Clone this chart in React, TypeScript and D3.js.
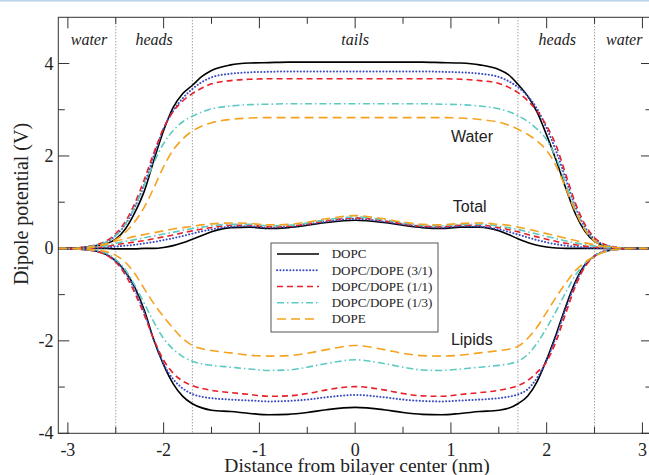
import React from "react";
import * as d3 from "d3";

const xs = [-3.1,-3.0,-2.9,-2.8,-2.7,-2.6,-2.5,-2.4,-2.3,-2.2,-2.1,-2.0,-1.9,-1.8,-1.7,-1.6,-1.5,-1.3,-1.1,-0.9,-0.7,-0.5,-0.3,0,0.3,0.5,0.7,0.9,1.1,1.3,1.5,1.6,1.7,1.8,1.9,2.0,2.1,2.2,2.3,2.4,2.5,2.6,2.7,2.8,2.9,3.0,3.1];

const seriesNames = ["DOPC", "DOPC/DOPE (3/1)", "DOPC/DOPE (1/1)", "DOPC/DOPE (1/3)", "DOPE"];

// Water contribution
const waterDOPC = [0,0,0.01,0.03,0.06,0.1,0.2,0.42,0.78,1.25,1.92,2.55,3.05,3.35,3.53,3.72,3.85,3.97,4.01,4.02,4.03,4.03,4.03,4.03,
  4.03,4.03,4.03,4.02,4.01,3.97,3.87,3.76,3.55,3.3,2.95,2.45,1.9,1.3,0.75,0.37,0.15,0.06,0.02,0.01,0,0,0];
const water31 = [0,0,0.01,0.03,0.07,0.14,0.28,0.52,0.9,1.4,2.02,2.6,2.98,3.25,3.45,3.6,3.7,3.78,3.81,3.82,3.83,3.83,3.83,3.83,
  3.83,3.83,3.83,3.82,3.81,3.78,3.71,3.62,3.49,3.3,3.02,2.6,2.1,1.5,0.9,0.46,0.2,0.08,0.03,0.01,0,0,0];
const water11 = [0,0,0.01,0.04,0.08,0.16,0.32,0.58,0.98,1.5,2.08,2.6,2.96,3.19,3.35,3.47,3.56,3.63,3.66,3.67,3.67,3.67,3.67,3.67,
  3.67,3.67,3.67,3.67,3.66,3.63,3.57,3.49,3.37,3.2,2.97,2.65,2.22,1.6,0.98,0.52,0.23,0.09,0.03,0.01,0,0,0];
const water13 = [0,0,0.01,0.03,0.07,0.14,0.28,0.52,0.9,1.38,1.86,2.27,2.55,2.74,2.86,2.95,3.02,3.08,3.11,3.12,3.13,3.13,3.13,3.13,
  3.13,3.13,3.13,3.12,3.11,3.08,3.02,2.96,2.87,2.75,2.58,2.35,1.95,1.4,0.85,0.42,0.17,0.07,0.02,0.01,0,0,0];
const waterDOPE = [0,0,0.01,0.02,0.05,0.1,0.19,0.35,0.58,0.9,1.32,1.77,2.13,2.37,2.54,2.65,2.72,2.79,2.82,2.83,2.83,2.83,2.83,2.83,
  2.83,2.83,2.83,2.83,2.82,2.79,2.73,2.67,2.58,2.47,2.32,2.12,1.78,1.3,0.8,0.4,0.16,0.06,0.02,0.01,0,0,0];

// Lipid contribution
const lipidDOPC = [0,0,-0.01,-0.03,-0.06,-0.13,-0.27,-0.5,-0.85,-1.35,-2.0,-2.52,-2.93,-3.2,-3.36,-3.45,-3.5,-3.53,-3.57,-3.6,-3.59,-3.55,-3.49,-3.44,
  -3.49,-3.55,-3.59,-3.6,-3.57,-3.53,-3.5,-3.46,-3.36,-3.2,-2.88,-2.4,-1.85,-1.25,-0.72,-0.35,-0.16,-0.07,-0.03,-0.01,0,0,0];
const lipid31 = [0,0,-0.01,-0.03,-0.06,-0.13,-0.28,-0.52,-0.9,-1.4,-1.98,-2.5,-2.83,-3.03,-3.15,-3.21,-3.24,-3.27,-3.29,-3.31,-3.3,-3.27,-3.22,-3.17,
  -3.22,-3.27,-3.3,-3.31,-3.29,-3.27,-3.24,-3.21,-3.16,-3.05,-2.8,-2.42,-1.9,-1.3,-0.76,-0.37,-0.16,-0.06,-0.02,-0.01,0,0,0];
const lipid11 = [0,0,-0.01,-0.03,-0.07,-0.14,-0.3,-0.57,-0.97,-1.45,-1.98,-2.42,-2.7,-2.87,-2.97,-3.03,-3.07,-3.12,-3.16,-3.2,-3.19,-3.14,-3.06,-2.99,
  -3.06,-3.14,-3.19,-3.2,-3.16,-3.12,-3.07,-3.03,-2.97,-2.86,-2.68,-2.45,-2.0,-1.4,-0.82,-0.4,-0.17,-0.07,-0.02,-0.01,0,0,0];
const lipid13 = [0,0,-0.01,-0.02,-0.05,-0.1,-0.24,-0.46,-0.8,-1.2,-1.6,-1.95,-2.18,-2.34,-2.44,-2.5,-2.53,-2.57,-2.61,-2.64,-2.63,-2.57,-2.49,-2.41,
  -2.49,-2.57,-2.63,-2.64,-2.61,-2.57,-2.53,-2.5,-2.44,-2.3,-2.05,-1.72,-1.35,-0.95,-0.58,-0.32,-0.16,-0.07,-0.03,-0.01,0,0,0];
const lipidDOPE = [0,0,-0.01,-0.02,-0.04,-0.07,-0.15,-0.3,-0.55,-0.88,-1.2,-1.48,-1.73,-1.95,-2.1,-2.17,-2.21,-2.26,-2.31,-2.33,-2.32,-2.27,-2.19,-2.1,
  -2.19,-2.27,-2.32,-2.33,-2.31,-2.26,-2.21,-2.18,-2.12,-1.95,-1.7,-1.38,-1.05,-0.75,-0.48,-0.3,-0.17,-0.08,-0.03,-0.01,0,0,0];

// Total dipole potential
const totalDOPC = [0,0,0,0,0,0,-0.01,-0.01,-0.01,0,0,0.02,0.06,0.12,0.2,0.28,0.36,0.45,0.46,0.43,0.45,0.5,0.56,0.61,
  0.56,0.5,0.45,0.43,0.46,0.46,0.38,0.3,0.21,0.13,0.07,0.03,0.01,0,0,0,0,0,0,0,0,0,0];
const total31 = [0,0,0,0,0.01,0.02,0.04,0.06,0.08,0.11,0.14,0.18,0.22,0.27,0.32,0.37,0.41,0.47,0.48,0.45,0.47,0.52,0.58,0.64,
  0.58,0.52,0.47,0.45,0.48,0.47,0.41,0.36,0.3,0.24,0.18,0.13,0.09,0.06,0.04,0.02,0.01,0,0,0,0,0,0];
const total11 = [0,0,0,0,0.02,0.04,0.08,0.11,0.14,0.17,0.21,0.25,0.29,0.34,0.38,0.42,0.45,0.5,0.5,0.47,0.48,0.53,0.6,0.66,
  0.6,0.53,0.48,0.47,0.5,0.5,0.45,0.41,0.36,0.3,0.25,0.2,0.15,0.11,0.08,0.05,0.03,0.01,0,0,0,0,0];
const total13 = [0,0,0,0.01,0.03,0.06,0.11,0.15,0.19,0.23,0.27,0.31,0.35,0.39,0.43,0.46,0.49,0.52,0.52,0.49,0.5,0.55,0.62,0.68,
  0.62,0.55,0.5,0.49,0.52,0.52,0.48,0.45,0.41,0.36,0.31,0.26,0.21,0.16,0.12,0.08,0.05,0.02,0.01,0,0,0,0];
const totalDOPE = [0,0,0,0.01,0.04,0.09,0.16,0.21,0.26,0.3,0.34,0.38,0.42,0.45,0.48,0.51,0.53,0.55,0.54,0.51,0.52,0.57,0.64,0.71,
  0.64,0.57,0.52,0.51,0.54,0.55,0.52,0.5,0.46,0.42,0.37,0.32,0.27,0.22,0.17,0.12,0.08,0.04,0.02,0.01,0,0,0];

const waterSets = [waterDOPC, water31, water11, water13, waterDOPE];
const lipidSets = [lipidDOPC, lipid31, lipid11, lipid13, lipidDOPE];
const totalSets = [totalDOPC, total31, total11, total13, totalDOPE];

const xTicks = [-3, -2, -1, 0, 1, 2, 3];
const xMinor = [-2.5, -1.5, -0.5, 0.5, 1.5, 2.5];
const yTicks = [-4, -2, 0, 2, 4];
const yMinor = [-3, -1, 1, 3];
const boundaries = [-2.5, -1.7, 1.7, 2.5];
const regionLabels = [
  { x: -2.78, t: "water" },
  { x: -2.1, t: "heads" },
  { x: 0, t: "tails" },
  { x: 2.11, t: "heads" },
  { x: 2.81, t: "water" },
];
const curveLabels = [
  { x: 1.0, y: 2.3, t: "Water" },
  { x: 1.02, y: 0.79, t: "Total" },
  { x: 1.0, y: -2.08, t: "Lipids" },
];

const styles = [
  { color: "#000000", dash: "", width: 1.6, cap: "butt" },
  { color: "#3a4cc4", dash: "0.1,3.2", width: 2, cap: "round" },
  { color: "#e8202a", dash: "6,4", width: 1.6, cap: "butt" },
  { color: "#5ccac2", dash: "7,3,1.5,3", width: 1.6, cap: "butt" },
  { color: "#f5a31f", dash: "9,5", width: 1.6, cap: "butt" },
];

const W = 649;
const H = 475;
const L = 58.3, R = 652, T = 17.3, B = 433.3;

export default function App() {
  const x = d3.scaleLinear().domain([-3.1, 3.1]).range([L, R]);
  const y = d3.scaleLinear().domain([-4, 5]).range([B, T]);
  const line = d3
    .line<number>()
    .x((_, i) => x(xs[i]))
    .y((d) => y(d))
    .curve(d3.curveMonotoneX);

  const serif = "'Liberation Serif', 'Times New Roman', serif";
  const sans = "'Liberation Sans', Arial, sans-serif";
  const axisColor = "#333";

  return (
    <svg
      width={W}
      height={H}
      style={{ position: "absolute", left: 0, top: 0, background: "#fff" }}
    >
      <rect x={0} y={0} width={W} height={H} fill="#fff" />
      <rect x={0} y={0} width={W} height={1.6} fill="#bcd5ea" />
      <defs>
        <clipPath id="plotclip">
          <rect x={L} y={T} width={R - L} height={B - T} />
        </clipPath>
      </defs>

      {/* boundary dotted lines */}
      {boundaries.map((b) => (
        <line key={"b" + b} x1={x(b)} x2={x(b)} y1={T} y2={B} stroke="#777" strokeWidth={1} strokeDasharray="1,2" />
      ))}

      {/* ticks */}
      {xTicks.map((t) => (
        <g key={"xt" + t}>
          <line x1={x(t)} x2={x(t)} y1={B} y2={B - 11} stroke={axisColor} strokeWidth={1} />
          <line x1={x(t)} x2={x(t)} y1={T} y2={T + 11} stroke={axisColor} strokeWidth={1} />
          <text x={x(t)} y={456} textAnchor="middle" fontFamily={serif} fontSize={18} fill="#222">
            {t < 0 ? "-" + Math.abs(t) : String(t)}
          </text>
        </g>
      ))}
      {xMinor.map((t) => (
        <g key={"xm" + t}>
          <line x1={x(t)} x2={x(t)} y1={B} y2={B - 6.5} stroke={axisColor} strokeWidth={1} />
          <line x1={x(t)} x2={x(t)} y1={T} y2={T + 6.5} stroke={axisColor} strokeWidth={1} />
        </g>
      ))}
      {yTicks.map((t) => (
        <g key={"yt" + t}>
          <line x1={L} x2={L + 11} y1={y(t)} y2={y(t)} stroke={axisColor} strokeWidth={1} />
          <line x1={R} x2={R - 11} y1={y(t)} y2={y(t)} stroke={axisColor} strokeWidth={1} />
          <text x={53.5} y={y(t) + 6} textAnchor="end" fontFamily={serif} fontSize={18} fill="#222">
            {t < 0 ? "-" + Math.abs(t) : String(t)}
          </text>
        </g>
      ))}
      {yMinor.map((t) => (
        <g key={"ym" + t}>
          <line x1={L} x2={L + 6.5} y1={y(t)} y2={y(t)} stroke={axisColor} strokeWidth={1} />
          <line x1={R} x2={R - 6.5} y1={y(t)} y2={y(t)} stroke={axisColor} strokeWidth={1} />
        </g>
      ))}

      {/* curves */}
      <g clipPath="url(#plotclip)">
        {[waterSets, totalSets, lipidSets].map((sets, k) =>
          sets.map((vals, i) => (
            <path
              key={"c" + k + "-" + i}
              d={line(vals) || ""}
              fill="none"
              stroke={styles[i].color}
              strokeWidth={styles[i].width}
              strokeDasharray={styles[i].dash || undefined}
              strokeLinecap={styles[i].cap as any}
            />
          ))
        )}
      </g>

      {/* frame */}
      <rect x={L} y={T} width={R - L} height={B - T} fill="none" stroke={axisColor} strokeWidth={1} />

      {/* region labels */}
      {regionLabels.map((r, i) => (
        <text key={"r" + i} x={x(r.x)} y={45} textAnchor="middle" fontFamily={serif} fontStyle="italic" fontSize={16} fill="#222">
          {r.t}
        </text>
      ))}

      {/* curve group labels */}
      {curveLabels.map((c) => (
        <text key={c.t} x={x(c.x)} y={y(c.y)} fontFamily={sans} fontSize={16} fill="#222">
          {c.t}
        </text>
      ))}

      {/* legend */}
      <rect x={271} y={243} width={167} height={89} fill="#fff" stroke="#555" strokeWidth={1} />
      {seriesNames.map((n, i) => {
        const base = 258.3 + i * 16.25;
        return (
          <g key={"lg" + i}>
            <line
              x1={277}
              x2={319}
              y1={base - 4.3}
              y2={base - 4.3}
              stroke={styles[i].color}
              strokeWidth={styles[i].width}
              strokeDasharray={styles[i].dash || undefined}
              strokeLinecap={styles[i].cap as any}
            />
            <text x={331.7} y={base} fontFamily={serif} fontSize={13} fill="#222">
              {n}
            </text>
          </g>
        );
      })}

      {/* axis titles */}
      <text x={357} y={472} textAnchor="middle" fontFamily={serif} fontSize={19.5} fill="#222">
        Distance from bilayer center (nm)
      </text>
      <text transform="translate(28,204) rotate(-90)" textAnchor="middle" fontFamily={serif} fontSize={20} fill="#222">
        Dipole potential (V)
      </text>
    </svg>
  );
}
